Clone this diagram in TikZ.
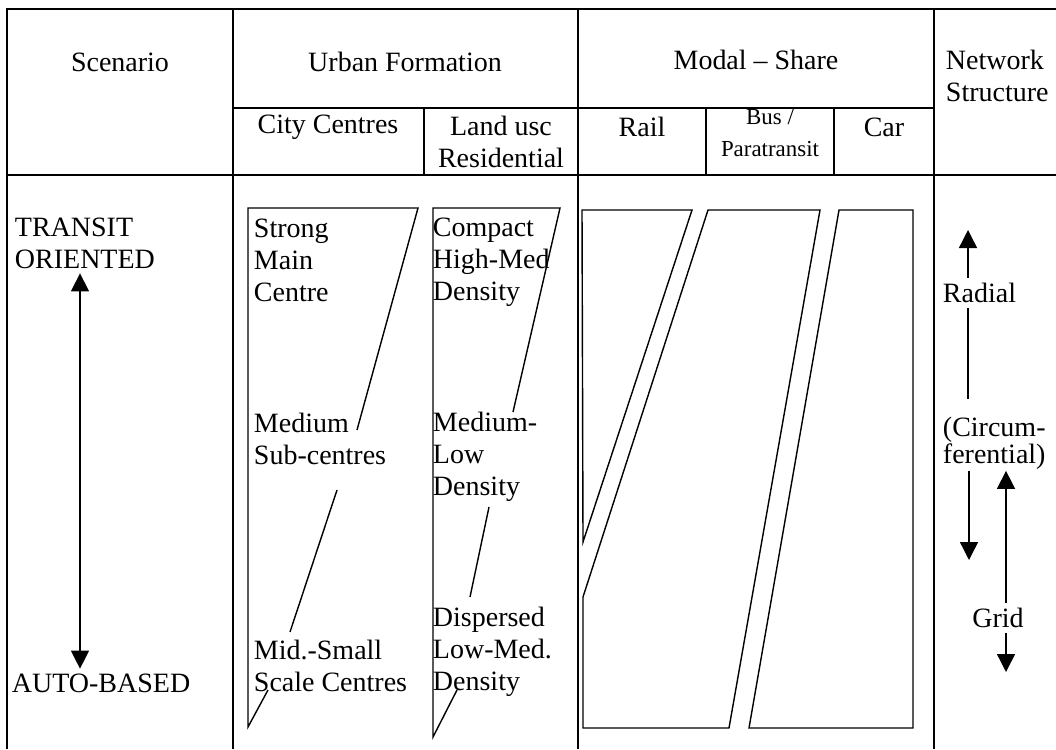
\documentclass[tikz,border=0pt]{standalone}
\usepackage{fontspec}
\setmainfont{Liberation Serif}
\usepackage{tikz}
\usetikzlibrary{arrows.meta,calc}

\begin{document}
\begin{tikzpicture}[x=0.025cm, y=-0.025cm]
    % Define styles
    \tikzstyle{tableline} = [line width=1.3pt]
    \tikzstyle{sketch} = [line width=1pt, line join=miter]
    \tikzstyle{cell} = [font=\fontsize{19.9}{22.8}\selectfont, align=left]
    \tikzstyle{smallcell} = [font=\fontsize{16.3}{22.8}\selectfont, align=center]
    \tikzstyle{arrow} = [line width=1pt, -{Triangle[length=0.45cm,width=0.45cm]}]
    \tikzstyle{twoway} = [line width=1pt, {Triangle[length=0.45cm,width=0.45cm]}-{Triangle[length=0.45cm,width=0.45cm]}]
    \useasboundingbox (0,0) rectangle (1056,749);

    % Table
    \draw [tableline] (7,749) -- (7,9) -- (1056,9);
    \draw [tableline] (7,175) -- (1056,175);
    \draw [tableline] (233,108) -- (934,108);
    \draw [tableline] (233,9) -- (233,749);
    \draw [tableline] (578,9) -- (578,749);
    \draw [tableline] (934,9) -- (934,749);
    \draw [tableline] (424,108) -- (424,175);
    \draw [tableline] (706,108) -- (706,175);
    \draw [tableline] (834,108) -- (834,175);

    % Header
    \node (scenario) [cell] at (120,62) {Scenario};
    \node (urban) [cell] at (405,62) {Urban Formation};
    \node (modal) [cell] at (756,60) {Modal -- Share};
    \node (network) [cell, anchor=west] at (941,76) {Network\\Structure};
    \node (city) [cell] at (328,127) {City Centres};
    \node (landuse) [cell, align=center] at (501,142) {Land usc\\Residential};
    \node (rail) [cell] at (642,127) {Rail};
    \node (bus) [smallcell] at (770,133) {Bus /\\Paratransit};
    \node (car) [cell] at (884,127) {Car};

    % Scenario
    \node (transit) [cell, anchor=west] at (10,243) {TRANSIT\\ORIENTED};
    \node (auto) [cell, anchor=west] at (7,683) {AUTO-BASED};
    \coordinate (axis) at (80,400);
    \draw [twoway] (transit.south -| axis) -- (auto.north -| axis);

    % Urban formation
    \node (strong) [cell, anchor=west] at (249,260) {Strong\\Main\\Centre};
    \node (medium) [cell, anchor=west] at (249,439) {Medium\\Sub-centres};
    \node (midsmall) [cell, anchor=west] at (249,666) {Mid.-Small\\Scale Centres};
    \draw [sketch] (357,430) -- (418,208) -- (248,208) -- (248,727) -- (268,690);
    \draw [sketch] (337,490) -- (290,632);

    \node (compact) [cell, anchor=west] at (428,262) {Compact\\High-Med\\Density};
    \node (mediumlow) [cell, anchor=west] at (428,457) {Medium-\\Low\\Density};
    \node (dispersed) [cell, anchor=west] at (428,652) {Dispersed\\Low-Med.\\Density};
    \draw [sketch] (513,412) -- (560,208) -- (433,208) -- (433,737) -- (457,690);
    \draw [sketch] (489,507) -- (470,597);

    % Modal share
    \draw [sketch] (582,210) -- (692,210) -- (583,542) -- cycle;
    \draw [sketch] (708,210) -- (820,210) -- (729,728) -- (583,728) -- (583,597) -- cycle;
    \draw [sketch] (839,210) -- (913,210) -- (913,728) -- (749,728) -- cycle;

    % Network structure
    \node (radial) [cell, anchor=west] at (938,293) {Radial};
    \node (circum) [cell, anchor=west, font=\fontsize{19.9}{19.2}\selectfont, inner ysep=1pt] at (938,443) {(Circum-\\ferential)};
    \node (grid) [cell] at (998,618) {Grid};
    \coordinate (radtip) at (968,230);
    \coordinate (circtip) at (969,560);
    \coordinate (gridtip) at (1006,672);
    \draw [arrow] (radial.north -| radtip) -- (radtip);
    \draw [sketch, shorten >=0.4cm] (radial.south -| radtip) -- (circum.north -| radtip);
    \draw [arrow] (circum.south -| circtip) -- (circtip);
    \draw [arrow] (grid.north -| gridtip) -- (circum.south -| gridtip);
    \draw [arrow] (grid.south -| gridtip) -- (gridtip);
\end{tikzpicture}
\end{document}
